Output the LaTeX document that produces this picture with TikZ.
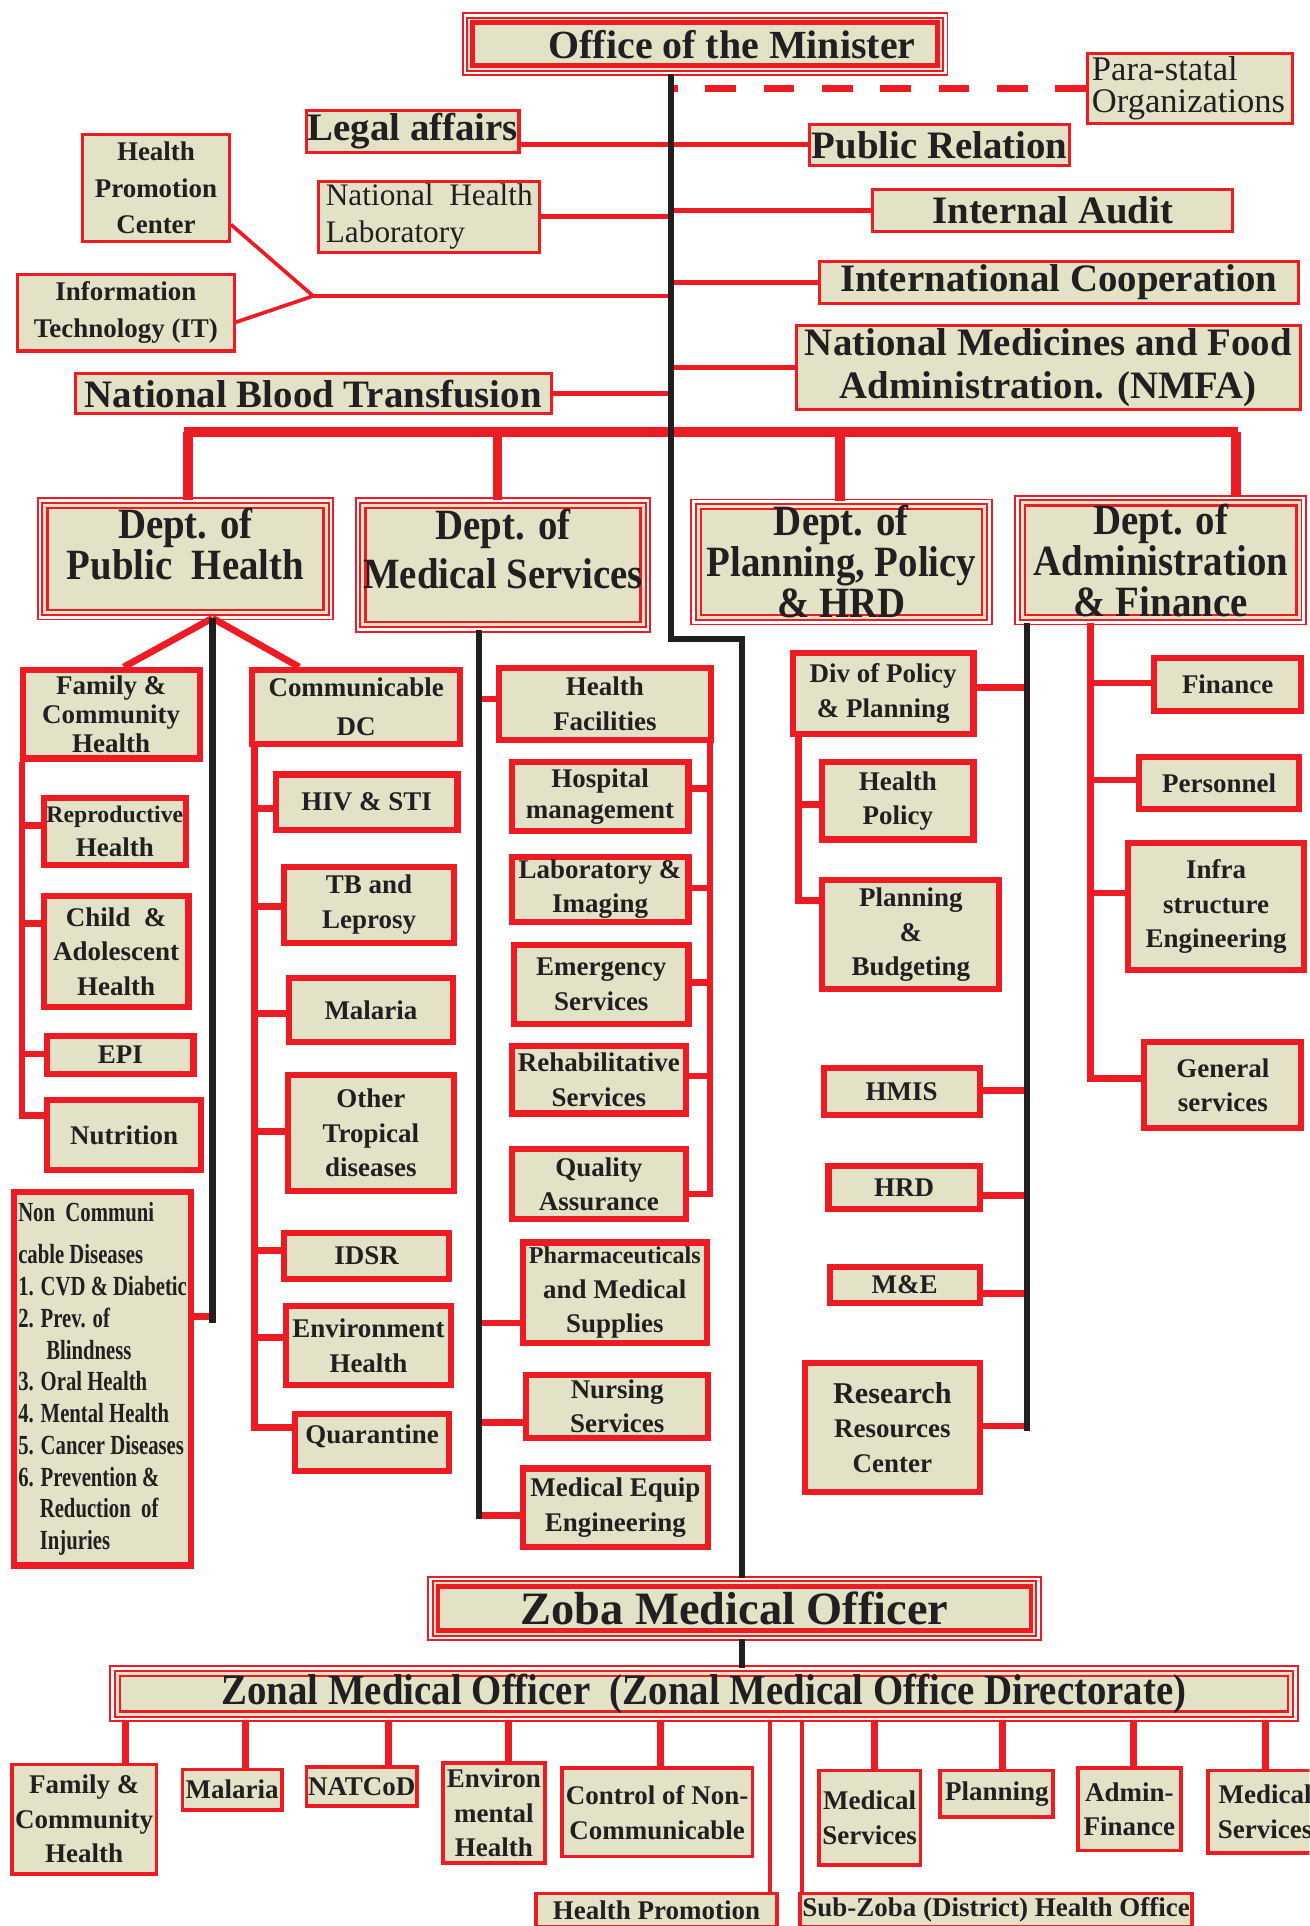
\documentclass[tikz,border=0pt]{standalone}
\usepackage{fontspec}
\setmainfont{Liberation Serif}
\newfontfamily\semifont{Liberation Serif}[FakeStretch=0.9]
\newfontfamily\ncdfont{Liberation Serif}[FakeStretch=0.75]
\usepackage{tikz}
\definecolor{ored}{RGB}{237,28,36}
\definecolor{beige}{RGB}{227,226,199}
\definecolor{blk}{RGB}{35,31,32}
\tikzset{dblbox/.style={rectangle, draw=ored, line width=0.3mm, double=white, double distance=0.45mm, fill=beige, text=blk, inner sep=0pt,
   path picture={\draw[ored, line width=#1] ([shift={(1.2mm,-1.2mm)}]path picture bounding box.north west) rectangle ([shift={(-1.2mm,1.2mm)}]path picture bounding box.south east);}},
   dblbox/.default=0.4mm}
\tikzstyle{topbox}=[rectangle, draw=ored, line width=0.5mm, fill=beige, text=blk, inner sep=0.5pt, align=center, font=\bfseries\fontsize{18}{20}\selectfont]
\tikzstyle{subbox}=[rectangle, draw=ored, line width=1mm, fill=beige, text=blk, inner sep=0.5pt, align=center, font=\bfseries\fontsize{12.5}{16}\selectfont]
\tikzstyle{botbox}=[subbox, line width=0.6mm]
\tikzstyle{deptbox}=[dblbox, align=center, font=\semifont\bfseries\fontsize{20}{19}\selectfont]
\tikzstyle{trunk}=[draw=blk, line width=1mm]
\tikzstyle{branch}=[draw=ored, line width=1.1mm]
\tikzstyle{topline}=[draw=ored, line width=0.8mm]
\tikzstyle{thinline}=[draw=ored, line width=0.6mm]
\tikzstyle{bar}=[draw=ored, line width=1.6mm]
\tikzstyle{reddash}=[draw=ored, line width=1mm, dash pattern=on 5mm off 4.5mm]
\begin{document}
\begin{tikzpicture}[x=0.2mm, y=-0.2mm]

  \def\u{0.2mm};
  \useasboundingbox (0,0) rectangle (1066,1568);
  \clip (0,0) rectangle (1066,1568);

  \node[dblbox=0.8mm, minimum width=391*\u, minimum height=47*\u, font=\bfseries\fontsize{18.5}{20}\selectfont] (minister) at (574,36) {\hspace*{25pt}Office of the Minister};

  \foreach \x/\y/\w/\h/\name/\label in {336/107/174/37/legal/{Legal affairs}, 765/118/214/36/pr/{Public Relation}, 857/171.5/296/37/audit/{Internal Audit}, 862/230/392/36/intl/{International Cooperation}, 853.5/299.5/413/71/nmfa/{National Medicines and Food\\Administration. (NMFA)}, 255/320.5/390/35/nbt/{National Blood Transfusion}}
         \node[topbox, minimum width=(\w-2.5)*\u, minimum height=(\h-2.5)*\u] (\name) at (\x,\y) {\label};

  \foreach \x/\y/\w/\h/\name/\label in {127/153/122/90/hpc/{Health\\Promotion\\Center}, 102.5/254.5/179/65/it/{Information\\Technology (IT)}}
         \node[topbox, font=\bfseries\fontsize{12.5}{17}\selectfont, minimum width=(\w-2.5)*\u, minimum height=(\h-2.5)*\u] (\name) at (\x,\y) {\label};

  \node[topbox, align=left, font=\fontsize{16}{15}\selectfont, text width=160*\u, minimum width=167*\u, minimum height=57*\u] (para) at (969,72) {Para-statal\\Organizations};
  \node[topbox, align=left, font=\fontsize{14.5}{17}\selectfont, minimum width=180*\u, minimum height=58*\u] (nhl) at (349.5,176.5) {National \ Health\\Laboratory};

  % departments
  \foreach \x/\y/\w/\h/\name/\label in {151/455/242/100/dph/{Dept. of\\Public \ Health\\[-5pt]\mbox{}}, 409.5/460/241/110/dms/{Dept. of\\[4pt]Medical Services\\[-4pt]\mbox{}}, 685/457.5/246/103/dplan/{Dept. of\\Planning, Policy\\\& HRD}, 945/456/238/106/dadm/{Dept. of\\Administration\\\& Finance}}
         \node[deptbox, minimum width=(\w-5)*\u, minimum height=(\h-5)*\u] (\name) at (\x,\y) {\label};

  % public health
  \foreach \x/\y/\w/\h/\name/\label in {90.5/581.5/149/77/fch/{Family \&\\[-2.5pt]Community\\[-2.5pt]Health}, 93.5/677/121/60/rh/{\fontsize{11}{15}\selectfont Reproductive\\Health}, 94.5/774.5/123/95/cah/{Child \ \&\\Adolescent\\Health}, 98/859/124/36/epi/{EPI}, 101/924/130/62/nut/{Nutrition}, 290/575.5/174/65/cdc/{Communicable\\[2pt]DC}, 298.5/653/153/50/hiv/{HIV \& STI}, 300.5/736.5/143/67/tbl/{TB and\\Leprosy}, 302/822.5/138/57/mal/{Malaria}, 302/922.5/140/99/otd/{Other\\Tropical\\diseases}, 298.5/1022.5/139/43/idsr/{IDSR}, 300/1095.5/140/69/env/{Environment\\Health}, 303/1174.5/130/51/qua/{Quarantine\\[-8pt]\mbox{}}}
         \node[subbox, minimum width=(\w-5)*\u, minimum height=(\h-5)*\u] (\name) at (\x,\y) {\label};

  \node[subbox, align=left, font=\ncdfont\bfseries\fontsize{12.8}{14.7}\selectfont, minimum width=144*\u, minimum height=304*\u] (ncd) at (83.5,1122.5)
        {Non \ Communi\\[5pt]cable Diseases\\1. CVD \& Diabetic\\2. Prev. of\\\hspace*{13pt}Blindness\\3. Oral Health\\4. Mental Health\\5. Cancer Diseases\\6. Prevention \&\\\hspace*{10pt}Reduction \ of\\\hspace*{10pt}Injuries};

  % medical services
  \foreach \x/\y/\w/\h/\name/\label in {492.5/573/177/64/hf/{Health\\Facilities}, 488.5/648.5/149/61/hm/{Hospital\\[-2pt]management}, 488.5/724/149/58/li/{Laboratory \&\\Imaging}, 489.5/801.5/147/69/es/{Emergency\\Services}, 487.5/879/147/60/rs/{Rehabilitative\\Services}, 487.5/964/147/62/qa/{Quality\\Assurance}, 500.5/1052.5/155/87/pms/{\fontsize{11.2}{15}\selectfont Pharmaceuticals\\and Medical\\Supplies}, 502.5/1145/153/56/ns/{Nursing\\Services}, 501/1227.5/156/69/mee/{Medical Equip\\Engineering}}
         \node[subbox, minimum width=(\w-5)*\u, minimum height=(\h-5)*\u] (\name) at (\x,\y) {\label};

  % planning, policy and hrd
  \foreach \x/\y/\w/\h/\name/\label in {719/564.5/152/71/dpp/{Div of Policy\\\& Planning}, 731/652/128/68/hpol/{Health\\Policy}, 741.5/761/149/94/pb/{Planning\\\&\\Budgeting}, 734/888.5/132/43/hmis/{HMIS}, 736/967/128/40/hrd/{HRD}, 736.5/1046/127/34/me/{M\&E}, 726.5/1162/147/110/rrc/{{\fontsize{14}{16}\selectfont Research}\\Resources\\Center}}
         \node[subbox, minimum width=(\w-5)*\u, minimum height=(\h-5)*\u] (\name) at (\x,\y) {\label};

  % administration and finance
  \foreach \x/\y/\w/\h/\name/\label in {999.5/557/125/48/fin/{Finance}, 992.5/637.5/135/47/per/{Personnel}, 990/738/148/108/infra/{Infra\\structure\\Engineering}, 995.5/883.5/133/75/gs/{General\\services}}
         \node[subbox, minimum width=(\w-5)*\u, minimum height=(\h-5)*\u] (\name) at (\x,\y) {\label};

  % zoba level
  \node[dblbox=0.7mm, minimum width=495*\u, minimum height=48*\u, font=\bfseries\fontsize{21.5}{23}\selectfont] (zoba) at (598,1309.5) {Zoba Medical Officer};
  \node[dblbox, minimum width=963*\u, minimum height=41*\u, font=\semifont\bfseries\fontsize{20}{22}\selectfont] (zonal) at (573,1379) {Zonal Medical Officer \ (Zonal Medical Office Directorate)};

  \foreach \x/\y/\w/\h/\name/\label in {68.5/1481/121/92/bfch/{Family \&\\Community\\Health}, 189/1457/84/36/bmal/{Malaria}, 294.5/1454.5/93/35/bnat/{NATCoD}, 402/1476/86/84/benv/{Environ\\mental\\Health}, 535/1475.5/158/75/bncd/{Control of Non-\\Communicable}, 534.5/1555/199/30/bhp/{Health Promotion}, 811/1555/322/30/bsub/{Sub-Zoba (District) Health Office}, 708/1480/86/80/bmed/{Medical\\Services}, 811.5/1460.5/95/41/bplan/{Planning}, 919.5/1473/87/70/badm/{Admin-\\Finance}, 1030/1475/96/70/bmed2/{Medical\\Services}}
         \node[botbox, minimum width=(\w-3)*\u, minimum height=(\h-3)*\u] (\name) at (\x,\y) {\label};

  % connectors
  \coordinate (mbend) at (546,520);
  \coordinate (mbend2) at (604,520);
  \coordinate (hpj) at (255,241);
  \coordinate (barl) at (150,352);
  \coordinate (barr) at (1008,352);
  \coordinate (phend) at (173,1077);
  \coordinate (msend) at (390,1237);
  \coordinate (ppend) at (836,1165);

  \path[reddash] (para.west) -- (para.west -| mbend);
  \path[topline] (legal.east |- pr.west) -- (pr.west);
  \foreach \n in {nhl, nbt}
         \path[topline] (\n.east) -- (\n.east -| mbend);
  \foreach \n in {audit, intl, nmfa}
         \path[topline] (\n.west) -- (\n.west -| mbend);
  \path[thinline] (hpc.-26) -- (hpj) -- (it.-5);
  \path[topline] (hpj) -- (hpj -| mbend);

  \path[bar] (barl) -- (barr);
  \foreach \n/\x in {dph/153, dms/405, dplan/684, dadm/1006}
         \path[bar] (barl -| \x,0) -- (\n.north -| \x,0);

  \path[branch] (dph.south -| phend) -- (fch.75);
  \path[branch] (dph.south -| phend) -- (cdc.145);
  \foreach \n/\y in {rh/672, cah/752, epi/858, nut/908}
         \path[branch] (fch.south -| 18,0) |- (\n.west |- 0,\y);
  \foreach \n/\y in {hiv/658, tbl/738, mal/825, otd/921, idsr/1018, env/1089, qua/1162}
         \path[branch] (cdc.south -| 207,0) |- (\n.west |- 0,\y);
  \path[branch] (ncd.east |- 0,1072) -- (phend |- 0,1072);

  \foreach \n/\y in {hf/569, pms/1077, ns/1158, mee/1234}
         \path[branch] (msend |- 0,\y) -- (\n.west |- 0,\y);
  \foreach \n/\y in {hm/642, li/723, es/800, rs/876, qa/972}
         \path[branch] (hf.south -| 578,0) |- (\n.east |- 0,\y);

  \foreach \n/\y in {dpp/560, hmis/888, hrd/973, me/1053, rrc/1161}
         \path[branch] (\n.east |- 0,\y) -- (ppend |- 0,\y);
  \foreach \n/\y in {hpol/655, pb/733}
         \path[branch] (dpp.south -| 650,0) |- (\n.west |- 0,\y);

  \foreach \n/\y in {fin/556, per/635, infra/727, gs/878}
         \path[branch] (dadm.south -| 888,0) |- (\n.west |- 0,\y);

  \foreach \n/\x in {bfch/102, bmal/200, bnat/316, benv/414, bncd/538, bmed/712, bplan/816, badm/923, bmed2/1030}
         \path[branch] (zonal.south -| \x,0) -- (\n.north -| \x,0);
  \foreach \n/\x in {bhp/627, bsub/653}
         \path[thinline] (zonal.south -| \x,0) -- (\n.north -| \x,0);

  \path[trunk] (dph.south -| phend) -- (phend);
  \path[trunk] (dms.south -| msend) -- (msend);
  \path[trunk] (dadm.south -| ppend) -- (ppend);
  \path[trunk] (minister.south -| mbend) -- (mbend) -- (mbend2) -- (zoba.north -| mbend2);
  \path[trunk] (zoba.south -| mbend2) -- (zonal.north -| mbend2);

\end{tikzpicture}
\end{document}
